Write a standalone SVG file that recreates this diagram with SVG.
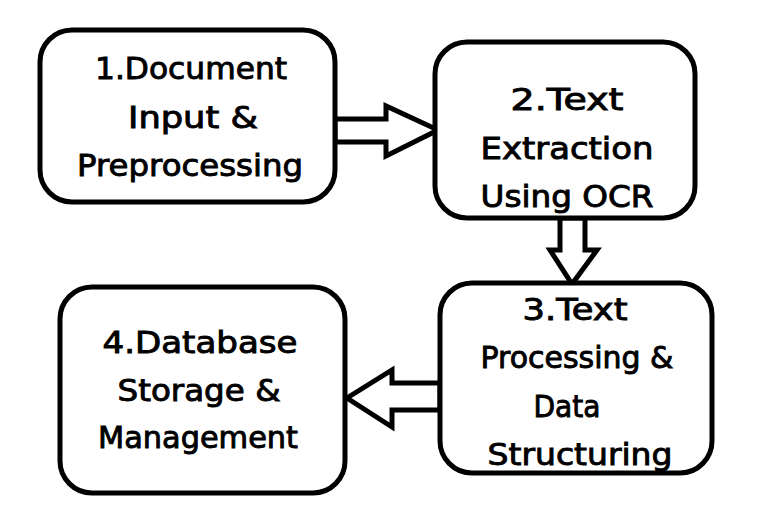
<svg xmlns="http://www.w3.org/2000/svg" width="784" height="506" viewBox="0 0 784 506">
<style>
.box{fill:#fff;stroke:#000;stroke-width:5}
.arr{fill:#fff;stroke:#000;stroke-width:5;stroke-linejoin:miter}
text{font-family:"DejaVu Sans","Liberation Sans",sans-serif;font-size:30px;fill:#000;stroke:#000;stroke-width:0.9;text-anchor:middle}
</style>
<rect width="784" height="506" fill="#fff"/>
<g id="connectors">
<polygon class="arr" points="335,119 386,119 386,106 438,130 386,156 386,142 335,142"/>
<polygon class="arr" points="560,218 560,250 550,250 572,284 597,250 585,250 585,218"/>
<polygon class="arr" points="440,383 392,383 392,370 347,398 392,427 392,410 440,410"/>
</g>
<g id="n1">
<rect class="box" x="40" y="30" width="295" height="172" rx="32"/>
<text x="191" y="79" textLength="192" lengthAdjust="spacingAndGlyphs">1.Document</text>
<text x="193" y="128" textLength="130" lengthAdjust="spacingAndGlyphs">Input &amp;</text>
<text x="190" y="176" textLength="226" lengthAdjust="spacingAndGlyphs">Preprocessing</text>
</g>
<g id="n2">
<rect class="box" x="435" y="42" width="260" height="176" rx="32"/>
<text x="567" y="110" textLength="113" lengthAdjust="spacingAndGlyphs">2.Text</text>
<text x="567" y="159" textLength="173" lengthAdjust="spacingAndGlyphs">Extraction</text>
<text x="567" y="207" textLength="173" lengthAdjust="spacingAndGlyphs">Using OCR</text>
</g>
<g id="n3">
<rect class="box" x="440" y="283" width="272" height="190" rx="32"/>
<text x="575" y="320" textLength="105" lengthAdjust="spacingAndGlyphs">3.Text</text>
<text x="577" y="368" textLength="193" lengthAdjust="spacingAndGlyphs">Processing &amp;</text>
<text x="567" y="417" textLength="67" lengthAdjust="spacingAndGlyphs">Data</text>
<text x="580" y="465" textLength="185" lengthAdjust="spacingAndGlyphs">Structuring</text>
</g>
<g id="n4">
<rect class="box" x="60" y="287" width="285" height="206" rx="32"/>
<text x="200" y="353" textLength="195" lengthAdjust="spacingAndGlyphs">4.Database</text>
<text x="199" y="401" textLength="163" lengthAdjust="spacingAndGlyphs">Storage &amp;</text>
<text x="198" y="448" textLength="200" lengthAdjust="spacingAndGlyphs">Management</text>
</g>
</svg>
